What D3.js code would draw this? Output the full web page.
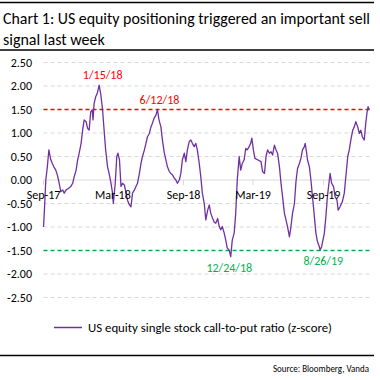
<!DOCTYPE html>
<html><head><meta charset="utf-8">
<script src="https://cdn.jsdelivr.net/npm/d3@7/dist/d3.min.js"></script>
<style>
html,body{margin:0;padding:0;background:#fff;}
svg{display:block;font-family:Calibri,Carlito,Lato,sans-serif;}
</style></head><body>
<svg id="chart" width="380" height="380"></svg>
<script>
// ---- data ----
const titleLines = ["Chart 1: US equity positioning triggered an important sell", "signal last week"];
const seriesName = "US equity single stock call-to-put ratio (z-score)";
const sourceText = "Source: Bloomberg, Vanda";
const yTicks = [2.5, 2.0, 1.5, 1.0, 0.5, 0.0, -0.5, -1.0, -1.5, -2.0, -2.5];
const xTickDates = ["2017-09-01","2018-03-01","2018-09-01","2019-03-01","2019-09-01"];
const buyLevel = -1.5, sellLevel = 1.5;
const dates = [
"2017-09-01","2017-09-03","2017-09-07","2017-09-11","2017-09-15","2017-09-20","2017-09-24","2017-09-28","2017-10-03","2017-10-07",
"2017-10-12","2017-10-16","2017-10-21","2017-10-25","2017-10-30","2017-11-05","2017-11-11","2017-11-16","2017-11-20","2017-11-25",
"2017-11-29","2017-12-03","2017-12-08","2017-12-12","2017-12-16","2017-12-21","2017-12-25","2017-12-29","2018-01-02","2018-01-06",
"2018-01-08","2018-01-11","2018-01-15","2018-01-19","2018-01-24","2018-01-28","2018-02-02","2018-02-06","2018-02-10","2018-02-15",
"2018-02-19","2018-02-24","2018-02-28","2018-03-02","2018-03-07","2018-03-11","2018-03-14","2018-03-18","2018-03-22","2018-03-26",
"2018-03-31","2018-04-04","2018-04-08","2018-04-13","2018-04-17","2018-04-21","2018-04-26","2018-04-30","2018-05-04","2018-05-09",
"2018-05-13","2018-05-17","2018-05-22","2018-05-26","2018-05-30","2018-06-04","2018-06-08","2018-06-12","2018-06-16","2018-06-21",
"2018-06-25","2018-06-29","2018-07-04","2018-07-08","2018-07-13","2018-07-17","2018-07-21","2018-07-26","2018-07-30","2018-08-03",
"2018-08-08","2018-08-12","2018-08-16","2018-08-21","2018-08-25","2018-08-29","2018-09-03","2018-09-07","2018-09-11","2018-09-16",
"2018-09-20","2018-09-24","2018-09-29","2018-10-03","2018-10-07","2018-10-12","2018-10-16","2018-10-20","2018-10-25","2018-10-29",
"2018-11-03","2018-11-07","2018-11-11","2018-11-16","2018-11-20","2018-11-24","2018-11-29","2018-12-03","2018-12-07","2018-12-11",
"2018-12-16","2018-12-20","2018-12-24","2018-12-29","2019-01-02","2019-01-06","2019-01-11","2019-01-15","2019-01-19","2019-01-24",
"2019-01-28","2019-02-01","2019-02-06","2019-02-10","2019-02-14","2019-02-19","2019-02-23","2019-02-26","2019-03-02","2019-03-06",
"2019-03-13","2019-03-22","2019-03-26","2019-03-31","2019-04-04","2019-04-08","2019-04-13","2019-04-17","2019-04-21","2019-04-26",
"2019-04-30","2019-05-04","2019-05-09","2019-05-13","2019-05-17","2019-05-22","2019-05-26","2019-05-30","2019-06-04","2019-06-08",
"2019-06-12","2019-06-17","2019-06-21","2019-06-25","2019-06-30","2019-07-04","2019-07-08","2019-07-13","2019-07-15","2019-07-19",
"2019-07-21","2019-07-26","2019-07-30","2019-08-04","2019-08-08","2019-08-12","2019-08-16","2019-08-21","2019-08-23","2019-08-27",
"2019-09-03","2019-09-07","2019-09-11","2019-09-16","2019-09-18","2019-09-22","2019-09-27","2019-10-01","2019-10-06","2019-10-09",
"2019-10-14","2019-10-20","2019-10-25","2019-10-29","2019-11-03","2019-11-07","2019-11-11","2019-11-16","2019-11-20","2019-11-24",
"2019-11-29","2019-12-03","2019-12-07","2019-12-11","2019-12-16","2019-12-20","2019-12-23","2019-12-26","2019-12-29"
];
const values = [
-1.00,-0.71,0.00,0.28,0.64,0.43,0.35,0.28,0.21,0.11,
-0.07,-0.25,-0.21,-0.28,-0.21,-0.18,-0.14,-0.07,0.07,0.21,
0.43,0.57,0.78,1.06,1.28,1.24,1.10,1.06,1.45,1.49,
1.28,1.63,1.77,1.84,2.02,1.84,1.49,1.06,0.64,0.28,
0.14,-0.07,-0.28,-0.50,-0.07,0.50,0.57,0.43,-0.14,-0.07,
-0.11,-0.28,-0.43,-0.53,-0.57,-0.28,-0.21,-0.14,-0.07,0.14,
0.35,0.50,0.64,0.78,0.92,0.99,1.13,1.21,1.31,1.38,
1.50,1.28,1.13,0.85,0.57,0.43,0.28,0.18,0.14,0.11,
0.04,0.00,-0.07,0.00,0.14,0.43,0.57,0.39,0.64,0.82,
0.85,0.78,0.71,0.78,0.64,0.35,0.07,-0.28,-0.50,-0.85,
-0.64,-0.53,-0.71,-0.82,-0.90,-0.92,-0.82,-0.99,-1.06,-0.99,
-1.13,-1.28,-1.45,-1.49,-1.63,-1.28,-1.13,-0.71,0.00,0.50,
0.21,0.35,0.43,0.67,0.64,0.71,0.78,0.89,0.64,0.46,
0.43,0.39,0.18,0.14,0.50,0.64,0.57,0.60,0.53,0.74,
0.64,0.57,0.28,-0.07,-0.35,-0.71,-0.85,-0.99,-1.21,-0.99,
-0.71,-0.50,-0.04,0.24,0.35,0.46,0.64,0.71,0.78,0.57,
0.43,0.28,0.00,-0.43,-0.78,-1.13,-1.31,-1.42,-1.49,-1.42,
-1.13,-0.78,-0.35,0.00,0.14,-0.07,-0.14,-0.35,-0.43,-0.64,
-0.57,-0.46,-0.28,0.07,0.50,0.64,0.85,1.06,1.13,1.24,
1.13,0.99,1.06,0.92,0.85,1.21,1.42,1.56,1.49
];
const annotLabels = ["1/15/18", "6/12/18", "12/24/18", "8/26/19"];
const annotDates = ["2018-01-15", "2018-06-12", "2018-12-24", "2019-08-26"];
const annotValues = [2.02, 1.50, -1.63, -1.49];

// ---- drawing ----
const parse = d3.timeParse("%Y-%m-%d");
const data = dates.map((d, i) => ({date: parse(d), value: values[i]}));
const svg = d3.select("#chart");
const purple = "#7030a0", red = "#ff0000", green = "#00b050", grid = "#d9d9d9";
const left = 43.5, right = 370;

const x = d3.scaleTime().domain([parse("2017-09-01"), parse("2019-12-31")]).range([left, right]);
const y = d3.scaleLinear().domain([-2.5, 2.5]).range([297.5, 62.5]);
const fmt = d3.formatLocale({decimal: ".", thousands: ",", grouping: [3], currency: ["$", ""], minus: "-"}).format(".2f");

// rules
svg.append("line").attr("x1", 0).attr("x2", 374).attr("y1", 2.5).attr("y2", 2.5).attr("stroke", "#000").attr("stroke-width", 1.5);
svg.append("line").attr("x1", 0).attr("x2", 374).attr("y1", 50).attr("y2", 50).attr("stroke", "#000").attr("stroke-width", 1.5);
svg.append("line").attr("x1", 0).attr("x2", 374).attr("y1", 355.5).attr("y2", 355.5).attr("stroke", "#000").attr("stroke-width", 1.5);

// title
svg.selectAll("text.title").data(titleLines).join("text").attr("class", "title")
  .attr("x", 3).attr("y", (d, i) => 24 + i * 21)
  .attr("font-size", 16).attr("fill", "#000")
  .attr("textLength", (d, i) => i === 0 ? 367 : null)
  .attr("lengthAdjust", "spacingAndGlyphs")
  .text(d => d);

// gridlines
svg.append("g").selectAll("line").data(yTicks.filter(v => v !== 0 && v !== 1.5 && v !== -1.5)).join("line")
  .attr("x1", left).attr("x2", right)
  .attr("y1", d => y(d)).attr("y2", d => y(d))
  .attr("stroke", grid).attr("stroke-width", 1).attr("stroke-dasharray", "4,3");

// zero axis line
svg.append("line").attr("x1", left).attr("x2", right).attr("y1", y(0)).attr("y2", y(0)).attr("stroke", grid).attr("stroke-width", 1);
svg.append("g").selectAll("line").data(xTickDates.map(parse)).join("line")
  .attr("x1", d => x(d)).attr("x2", d => x(d)).attr("y1", y(0)).attr("y2", y(0) + 5)
  .attr("stroke", grid).attr("stroke-width", 1);

// y labels
svg.append("g").selectAll("text").data(yTicks).join("text")
  .attr("x", 32).attr("y", d => y(d)).attr("dy", "0.35em")
  .attr("text-anchor", "end").attr("font-size", 12).attr("fill", "#000")
  .text(d => fmt(d));

// threshold lines
svg.append("line").attr("x1", left).attr("x2", right).attr("y1", y(sellLevel)).attr("y2", y(sellLevel))
  .attr("stroke", red).attr("stroke-width", 1.5).attr("stroke-dasharray", "4,3");
svg.append("line").attr("x1", left).attr("x2", right).attr("y1", y(buyLevel)).attr("y2", y(buyLevel))
  .attr("stroke", green).attr("stroke-width", 1.5).attr("stroke-dasharray", "4,3");

// series line
svg.append("path").datum(data)
  .attr("fill", "none").attr("stroke", purple).attr("stroke-width", 1.3).attr("stroke-linejoin", "round")
  .attr("d", d3.line().x(d => x(d.date)).y(d => y(d.value)));

// x labels
const xfmt = d3.timeFormat("%b-%y");
svg.append("g").selectAll("text").data(xTickDates.map(parse)).join("text")
  .attr("x", d => x(d)).attr("y", y(0) + 19)
  .attr("text-anchor", "middle").attr("font-size", 12).attr("fill", "#000")
  .text(d => xfmt(d));

// annotations
svg.append("g").selectAll("text").data(annotLabels).join("text")
  .attr("x", (d, i) => x(parse(annotDates[i])) + (annotValues[i] > 0 ? 7 : 2))
  .attr("y", (d, i) => annotValues[i] > 0 ? y(annotValues[i]) - 6 : y(annotValues[i]) + 15)
  .attr("text-anchor", "middle").attr("font-size", 12)
  .attr("fill", (d, i) => annotValues[i] > 0 ? red : green)
  .text(d => d);

// legend
svg.append("line").attr("x1", 54).attr("x2", 82).attr("y1", 327.5).attr("y2", 327.5).attr("stroke", purple).attr("stroke-width", 1.5);
svg.append("text").attr("x", 88).attr("y", 332).attr("font-size", 12).attr("fill", "#000")
  .attr("textLength", 244).attr("lengthAdjust", "spacingAndGlyphs").text(seriesName);

// source
svg.append("text").attr("x", 369).attr("y", 372).attr("text-anchor", "end").attr("font-size", 9.5).attr("fill", "#000")
  .attr("textLength", 96).attr("lengthAdjust", "spacingAndGlyphs").text(sourceText);
</script>
</body></html>
